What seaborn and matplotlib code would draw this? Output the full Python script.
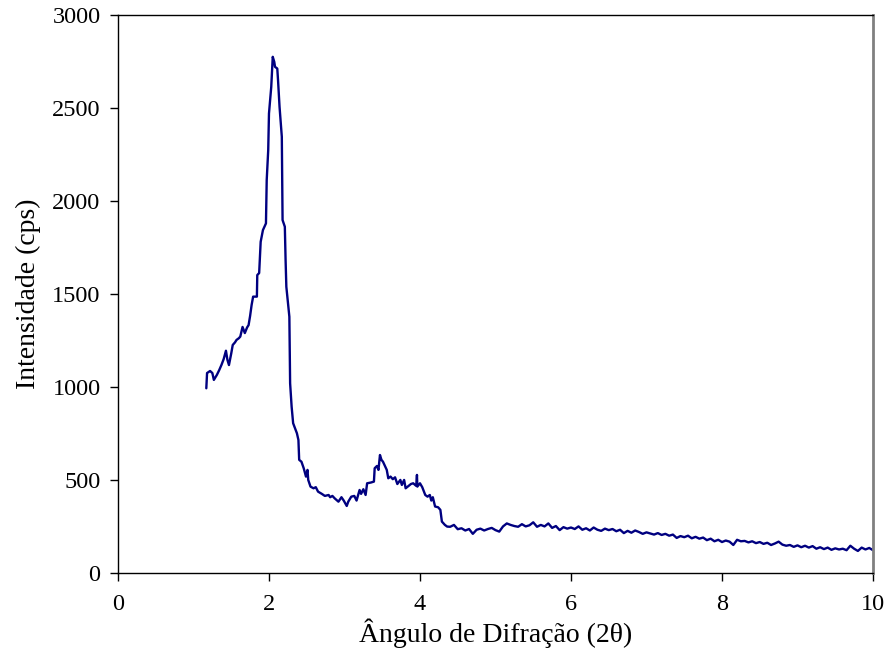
import matplotlib
matplotlib.use("Agg")
import matplotlib.pyplot as plt
import seaborn as sns
import pandas as pd

# 2-theta (degrees) and intensity (cps)
two_theta = [
    1.17, 1.18, 1.22, 1.25, 1.27, 1.31, 1.34, 1.37, 1.40, 1.43, 1.45, 1.47,
    1.50, 1.52, 1.55, 1.57, 1.60, 1.62, 1.65, 1.68, 1.71, 1.73, 1.75, 1.77,
    1.79, 1.84, 1.845, 1.87, 1.88, 1.89, 1.92, 1.96, 1.97, 1.99, 2.00, 2.03,
    2.05, 2.07, 2.08, 2.11, 2.12, 2.14, 2.17, 2.18, 2.21, 2.22, 2.23, 2.27,
    2.28, 2.30, 2.32, 2.37, 2.39, 2.40, 2.43, 2.46, 2.49, 2.51, 2.52, 2.55,
    2.59, 2.62, 2.65, 2.70, 2.74, 2.79, 2.81, 2.84, 2.87, 2.92, 2.96, 2.99,
    3.03, 3.05, 3.09, 3.13, 3.16, 3.20, 3.22, 3.25, 3.28, 3.30, 3.35, 3.39,
    3.40, 3.43, 3.45, 3.47, 3.49, 3.51, 3.54, 3.56, 3.58, 3.61, 3.64, 3.67,
    3.70, 3.74, 3.76, 3.79, 3.81, 3.85, 3.88, 3.91, 3.95, 3.96, 3.965, 4.00,
    4.03, 4.07, 4.10, 4.13, 4.15, 4.17, 4.20, 4.24, 4.27, 4.29,
    4.33, 4.36, 4.40, 4.45, 4.50, 4.55, 4.60, 4.65, 4.70, 4.75, 4.80, 4.85,
    4.90, 4.95, 5.00, 5.05, 5.10, 5.15, 5.20, 5.25, 5.30, 5.35, 5.40, 5.45,
    5.50, 5.55, 5.60, 5.65, 5.70, 5.75, 5.80, 5.85, 5.90, 5.95, 6.00, 6.05,
    6.10, 6.15, 6.20, 6.25, 6.30, 6.35, 6.40, 6.45, 6.50, 6.55, 6.60, 6.65,
    6.70, 6.75, 6.80, 6.85, 6.90, 6.95, 7.00, 7.05, 7.10, 7.15, 7.20, 7.25,
    7.30, 7.35, 7.40, 7.45, 7.50, 7.55, 7.60, 7.65, 7.70, 7.75, 7.80, 7.85,
    7.90, 7.95, 8.00, 8.05, 8.10, 8.15, 8.20, 8.25, 8.30, 8.35, 8.40, 8.45,
    8.50, 8.55, 8.60, 8.65, 8.70, 8.75, 8.80, 8.85, 8.90, 8.95, 9.00, 9.05,
    9.10, 9.15, 9.20, 9.25, 9.30, 9.35, 9.40, 9.45, 9.50, 9.55, 9.60, 9.65,
    9.70, 9.75, 9.80, 9.85, 9.90, 9.95, 10.00,
]
intensity = [
    993, 1075, 1086, 1075, 1038, 1065, 1090, 1118, 1150, 1195, 1145, 1118,
    1180, 1226, 1240, 1253, 1262, 1271, 1323, 1290, 1320, 1333, 1382, 1441,
    1486, 1486, 1602, 1613, 1701, 1781, 1844, 1880, 2113, 2274, 2471, 2614,
    2776, 2749, 2722, 2713, 2650, 2507, 2346, 1898, 1862, 1683, 1539, 1378,
    1020, 894, 805, 751, 715, 608, 598, 563, 518, 554, 500, 464,
    455, 461, 437, 425, 414, 419, 407, 414, 401, 383, 407, 389,
    360, 383, 410, 414, 389, 446, 425, 450, 419, 482, 486, 491,
    563, 575, 554, 634, 608, 598, 572, 554, 509, 518, 504, 514,
    478, 500, 473, 500, 455, 468, 478, 482, 468, 527, 464, 482,
    461, 419, 410, 419, 389, 407, 357, 353, 339, 276,
    258, 249, 248, 258, 235, 240, 228, 236, 210, 232, 238, 228,
    236, 242, 230, 222, 250, 266, 258, 252, 248, 262, 250, 256,
    272, 248, 258, 250, 266, 242, 252, 230, 246, 238, 244, 236,
    250, 232, 240, 228, 244, 232, 226, 238, 230, 236, 224, 232,
    214, 226, 216, 228, 220, 210, 218, 212, 206, 214, 204, 210,
    200, 206, 188, 198, 192, 200, 186, 194, 184, 190, 176, 184,
    170, 178, 166, 174, 168, 150, 178, 170, 172, 164, 170, 160,
    166, 156, 162, 150, 158, 168, 152, 146, 150, 140, 148, 138,
    146, 136, 144, 130, 138, 128, 136, 124, 132, 126, 130, 122,
    146, 130, 118, 136, 126, 134, 122,
]

x_ticks = [0, 2, 4, 6, 8, 10]
y_ticks = [0, 500, 1000, 1500, 2000, 2500, 3000]

sns.set_style("white")
plt.rcParams["font.family"] = ["Liberation Serif", "DejaVu Serif"]

df = pd.DataFrame({"two_theta": two_theta, "intensity": intensity})

fig = plt.figure(figsize=(8.89, 6.6), dpi=100)
ax = fig.add_axes([0.1327, 0.132, 0.982 - 0.1327, 0.977 - 0.132])

sns.lineplot(data=df, x="two_theta", y="intensity", ax=ax, color="#000080",
             linewidth=1.7, estimator=None, sort=False)

ax.set_xlim(0, 10)
ax.set_ylim(0, 3000)
ax.set_xticks(x_ticks)
ax.set_yticks(y_ticks)
ax.set_xticklabels([str(t) for t in x_ticks])
ax.set_yticklabels([str(t) for t in y_ticks])

ax.tick_params(axis="both", direction="out", length=5.5, width=1,
               color="black", labelsize=17.5, labelcolor="black",
               left=True, bottom=True)
ax.tick_params(axis="y", pad=7)
ax.tick_params(axis="x", pad=10)

ax.set_xlabel("Ângulo de Difração (2θ)", fontsize=20, labelpad=2, color="black")
ax.set_ylabel("Intensidade (cps)", fontsize=20, labelpad=8, color="black")

for side in ["left", "bottom", "top"]:
    ax.spines[side].set_color("black")
    ax.spines[side].set_linewidth(1.0)
    ax.spines[side].set_visible(True)
ax.spines["right"].set_visible(True)
ax.spines["right"].set_color("#808080")
ax.spines["right"].set_linewidth(2.0)

ax.grid(False)
ax.set_facecolor("white")
fig.patch.set_facecolor("white")

fig.savefig("out.png", dpi=100, facecolor="white")
